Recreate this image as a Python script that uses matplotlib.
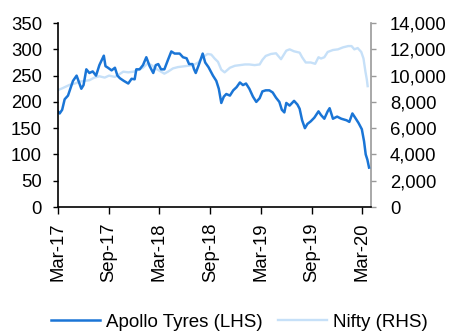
import matplotlib
matplotlib.use("Agg")
import matplotlib.pyplot as plt
import matplotlib.dates as mdates
import pandas as pd

# Apollo Tyres share price (LHS)
apollo_dates = [
    "2017-03-01", "2017-03-07", "2017-03-16", "2017-03-25", "2017-04-06", "2017-04-24",
    "2017-05-07", "2017-05-24", "2017-06-01", "2017-06-11", "2017-06-22", "2017-07-04",
    "2017-07-16", "2017-07-28", "2017-08-13", "2017-08-19", "2017-08-28", "2017-09-10",
    "2017-09-22", "2017-10-01", "2017-10-10", "2017-10-24", "2017-11-09", "2017-11-21",
    "2017-12-02", "2017-12-08", "2017-12-20", "2018-01-01", "2018-01-13", "2018-01-25",
    "2018-02-07", "2018-02-16", "2018-02-25", "2018-03-07", "2018-03-19", "2018-04-01",
    "2018-04-13", "2018-04-25", "2018-05-13", "2018-05-25", "2018-06-07", "2018-06-16",
    "2018-06-28", "2018-07-04", "2018-07-10", "2018-07-22", "2018-08-04", "2018-08-13",
    "2018-08-25", "2018-09-10", "2018-09-22", "2018-10-01", "2018-10-10", "2018-10-19",
    "2018-10-28", "2018-11-10", "2018-11-22", "2018-12-04", "2018-12-16", "2018-12-27",
    "2019-01-07", "2019-01-19", "2019-02-01", "2019-02-13", "2019-02-25", "2019-03-07",
    "2019-03-19", "2019-04-01", "2019-04-13", "2019-04-25", "2019-05-07", "2019-05-16",
    "2019-05-25", "2019-06-01", "2019-06-13", "2019-06-29", "2019-07-11", "2019-07-19",
    "2019-07-28", "2019-08-07", "2019-08-16", "2019-08-28", "2019-09-10", "2019-09-25",
    "2019-10-04", "2019-10-16", "2019-10-28", "2019-11-04", "2019-11-16", "2019-12-01",
    "2019-12-16", "2020-01-04", "2020-01-14", "2020-01-25", "2020-02-04", "2020-02-16",
    "2020-02-28", "2020-03-07", "2020-03-13", "2020-03-19", "2020-03-25",
]
apollo = [
    182, 178, 185, 205, 212, 240,
    250, 225, 232, 262, 255, 258,
    250, 270, 288, 268, 265, 260,
    265, 250, 245, 240, 235, 244,
    243, 262, 262, 270, 285, 268,
    255, 270, 272, 262, 262, 280,
    296, 292, 292, 285, 283, 272,
    272, 262, 255, 272, 292, 275,
    266, 250, 240, 225, 198, 210,
    215, 212, 222, 228, 237, 232,
    235, 225, 210, 200, 207, 220,
    222, 222, 218, 208, 200, 185,
    180, 198, 193, 202, 195, 187,
    165, 150, 158, 163, 170, 182,
    175, 168, 182, 188, 168, 172,
    168, 165, 162, 178, 170, 160,
    148, 125, 100, 90, 75,
]

# Nifty index (RHS)
nifty_dates = [
    "2017-03-01", "2017-03-18", "2017-04-12", "2017-05-01", "2017-05-20", "2017-06-05",
    "2017-06-22", "2017-07-10", "2017-07-28", "2017-08-16", "2017-09-01", "2017-09-22",
    "2017-10-04", "2017-10-22", "2017-11-09", "2017-11-28", "2017-12-15", "2018-01-01",
    "2018-01-19", "2018-02-04", "2018-02-19", "2018-03-07", "2018-03-19", "2018-04-01",
    "2018-04-19", "2018-05-07", "2018-05-25", "2018-06-13", "2018-07-01", "2018-07-19",
    "2018-08-04", "2018-08-22", "2018-09-04", "2018-09-16", "2018-09-28", "2018-10-10",
    "2018-10-22", "2018-11-10", "2018-11-28", "2018-12-16", "2019-01-03", "2019-01-19",
    "2019-02-07", "2019-02-25", "2019-03-07", "2019-03-19", "2019-04-07", "2019-04-25",
    "2019-05-13", "2019-06-01", "2019-06-13", "2019-06-29", "2019-07-19", "2019-07-28",
    "2019-08-10", "2019-08-28", "2019-09-13", "2019-09-25", "2019-10-04", "2019-10-16",
    "2019-10-28", "2019-11-16", "2019-12-04", "2019-12-22", "2020-01-10", "2020-01-22",
    "2020-02-01", "2020-02-13", "2020-02-26", "2020-03-05", "2020-03-12", "2020-03-17",
    "2020-03-20",
]
nifty = [
    8900, 9050, 9300, 9400, 9550, 9600,
    9650, 9850, 9950, 9850, 10000, 9900,
    10050, 10300, 10250, 10300, 10450, 10600,
    10950, 10750, 10500, 10300, 10150, 10300,
    10550, 10650, 10700, 10750, 10800, 11000,
    11400, 11650, 11600, 11300, 11050, 10450,
    10250, 10600, 10750, 10800, 10850, 10850,
    10800, 10850, 11200, 11500, 11650, 11700,
    11250, 11900, 12000, 11850, 11750, 11400,
    11000, 11000, 10900, 11400, 11300, 11400,
    11800, 11950, 12000, 12150, 12250, 12250,
    12000, 12100, 11800, 11300, 10300, 9700,
    9200,
]

apollo_color = "#1a75d6"
nifty_color = "#c6e0f8"
fs = 13.3

plt.rcParams["font.family"] = ["Liberation Sans", "DejaVu Sans"]

fig = plt.figure(figsize=(4.51, 3.32), dpi=100)
ax = fig.add_axes([0.1286, 0.3765, 0.694, 0.554])
ax2 = ax.twinx()

ax.plot(pd.to_datetime(apollo_dates), apollo, color=apollo_color, lw=1.8,
        label="Apollo Tyres (LHS)")
ax2.plot(pd.to_datetime(nifty_dates), nifty, color=nifty_color, lw=1.7,
         label="Nifty (RHS)")

# keep the stock line above the index line
ax.set_zorder(ax2.get_zorder() + 1)
ax.patch.set_visible(False)

ax.set_ylim(0, 350)
ax.set_yticks(range(0, 351, 50))
ax2.set_ylim(0, 14000)
ax2.set_yticks(range(0, 14001, 2000))
ax2.yaxis.set_major_formatter(matplotlib.ticker.StrMethodFormatter("{x:,.0f}"))

ax.set_xlim(pd.Timestamp("2017-03-01"), pd.Timestamp("2020-04-01"))
ax.xaxis.set_major_locator(mdates.MonthLocator(bymonth=[3, 9]))
ax.xaxis.set_major_formatter(mdates.DateFormatter("%b-%y"))
for lbl in ax.get_xticklabels():
    lbl.set_rotation(90)

for side in ["top", "right"]:
    ax.spines[side].set_visible(False)
for side in ["top", "left", "bottom"]:
    ax2.spines[side].set_visible(False)
ax.spines["left"].set_color("black")
ax.spines["bottom"].set_color("black")
ax.spines["left"].set_linewidth(1.2)
ax.spines["bottom"].set_linewidth(1.2)
ax2.spines["right"].set_color("#999999")
ax2.spines["right"].set_linewidth(1.2)

ax.tick_params(axis="y", labelsize=fs, length=3.6, width=1, pad=8, colors="black")
ax.tick_params(axis="x", labelsize=fs, length=5, width=1, pad=6, colors="black")
ax2.tick_params(axis="y", labelsize=fs, length=3.6, width=1, pad=10,
                color="#999999", labelcolor="black")

h1, l1 = ax.get_legend_handles_labels()
h2, l2 = ax2.get_legend_handles_labels()
fig.legend(h1 + h2, l1 + l2, loc="center", bbox_to_anchor=(0.531, 0.03),
           ncol=2, frameon=False, fontsize=13.5, handlelength=2.6,
           columnspacing=0.8, handletextpad=0.35)

fig.savefig("out.png", dpi=100)
